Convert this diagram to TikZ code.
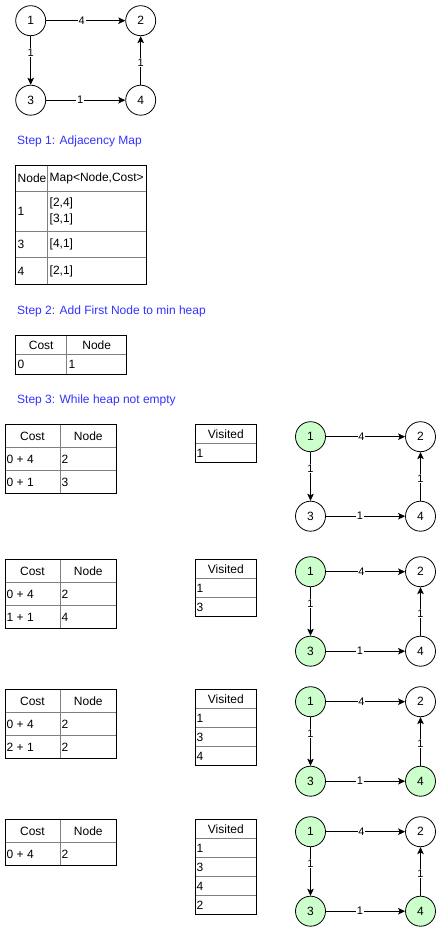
\documentclass[tikz,border=0pt]{standalone}
\usepackage{fontspec}
\setmainfont{Liberation Sans}
\usetikzlibrary{arrows.meta}
\definecolor{stepblue}{HTML}{3333FF}
\definecolor{seengreen}{HTML}{CCFFCC}
\definecolor{gridgray}{HTML}{808080}
\tikzset{
 txttw/.style={font=\fontsize{12}{14}\selectfont},
 vtx/.style={circle, draw=black, line width=0.8pt, minimum size=30pt, inner sep=0pt, fill=white, txttw},
 seen/.style={vtx, fill=seengreen},
 arc/.style={draw=black, line width=0.8pt, -{Stealth[length=7pt,width=6.5pt,inset=1.5pt]}},
 elab/.style={fill=white, inner sep=0.8pt, font=\fontsize{11}{13}\selectfont},
 steptext/.style={anchor=west, inner sep=0pt, text=stepblue, txttw},
 lcell/.style={anchor=west, inner sep=0pt, txttw},
 ccell/.style={inner sep=0pt, txttw},
 tblframe/.style={draw=black, line width=0.8pt},
 tblline/.style={draw=gridgray, line width=0.8pt},
}
% graph: prefix, x, y, style of 1, style of 3, style of 4
\newcommand{\graphblock}[6]{%
 \begin{scope}[shift={(#2,#3)}]
  \node[#4] (#1v1) at (0,0) {1};
  \node[vtx] (#1v2) at (110,0) {2};
  \node[#5] (#1v3) at (0,79.5) {3};
  \node[#6] (#1v4) at (110,79.5) {4};
  \draw[arc] (#1v1) -- node[elab,pos=0.45] (#1l12) {4} (#1v2);
  \draw[arc] (#1v1) -- node[elab,pos=0.34] (#1l13) {1} (#1v3);
  \draw[arc] (#1v3) -- node[elab,pos=0.43] (#1l34) {1} (#1v4);
  \draw[arc] (#1v4) -- node[elab,pos=0.46] (#1l42) {1} (#1v2);
 \end{scope}}
% heap table header at top y: prefix, y
\newcommand{\heaphead}[2]{%
 \node[ccell] (#1hc) at (32.5,{#2+11.5}) {Cost};
 \node[ccell] (#1hn) at (88.3,{#2+11.5}) {Node};}
\begin{document}
\begin{tikzpicture}[x=1pt,y=-1pt]
\useasboundingbox (0,0) rectangle (441,931);
\fill[white] (0,0) rectangle (441,931);

% ---- top graph
\graphblock{g0}{30.7}{20.7}{vtx}{vtx}{vtx}

\node[steptext] (s1) at (17,141) {Step 1: Adjacency Map};

% ---- adjacency table
\draw[tblline] (47.7,165.7) -- (47.7,284.3);
\draw[tblline] (15.7,191.7) -- (146.7,191.7);
\draw[tblline] (15.7,231) -- (146.7,231);
\draw[tblline] (15.7,257.7) -- (146.7,257.7);
\draw[tblframe] (15.7,165.7) rectangle (146.7,284.3);
\node[lcell] (ah1) at (17.5,178.7) {Node};
\node[lcell] (ah2) at (49.5,178.7) {Map<Node,Cost>};
\node[lcell] (ar1a) at (17.5,211.3) {1};
\node[lcell,align=left,font=\fontsize{12}{15.5}\selectfont] (ar1b) at (49.5,211.3) {[2,4]\\\relax[3,1]};
\node[lcell] (ar2a) at (17.5,244.3) {3};
\node[lcell] (ar2b) at (49.5,244.3) {[4,1]};
\node[lcell] (ar3a) at (17.5,271) {4};
\node[lcell] (ar3b) at (49.5,271) {[2,1]};

\node[steptext] (s2) at (17,311) {Step 2: Add First Node to min heap};

% ---- initial heap
\draw[tblline] (66.7,335.7) -- (66.7,374);
\draw[tblline] (15.7,354.3) -- (126.7,354.3);
\draw[tblframe] (15.7,335.7) rectangle (126.7,374);
\node[ccell] (ih1) at (41.2,345) {Cost};
\node[ccell] (ih2) at (96.7,345) {Node};
\node[lcell] (ir1) at (17.5,364.2) {0};
\node[lcell] (ir2) at (68.5,364.2) {1};

\node[steptext] (s3) at (17,400.7) {Step 3: While heap not empty};

% ================= block 1 (top 424.7)
\draw[tblline] (60,424.7) -- (60,493.7);
\draw[tblline] (5,447.7) -- (116.7,447.7);
\draw[tblline] (5,470.7) -- (116.7,470.7);
\draw[tblframe] (5,424.7) rectangle (116.7,493.7);
\heaphead{a}{424.7}
\node[lcell] (a1c) at (6.5,459.2) {0 + 4};
\node[lcell] (a1n) at (61.5,459.2) {2};
\node[lcell] (a2c) at (6.5,482.2) {0 + 1};
\node[lcell] (a2n) at (61.5,482.2) {3};
\draw[tblline] (195,443.7) -- (256.7,443.7);
\draw[tblframe] (195,424.7) rectangle (256.7,462.7);
\node[ccell] (av0) at (225.8,434.2) {Visited};
\node[lcell] (av1) at (196.5,453.2) {1};
\graphblock{ga}{310.5}{436.7}{seen}{vtx}{vtx}

% ================= block 2 (top 559.7)
\draw[tblline] (60,559.7) -- (60,628.7);
\draw[tblline] (5,582.7) -- (116.7,582.7);
\draw[tblline] (5,605.7) -- (116.7,605.7);
\draw[tblframe] (5,559.7) rectangle (116.7,628.7);
\heaphead{b}{559.7}
\node[lcell] (b1c) at (6.5,594.2) {0 + 4};
\node[lcell] (b1n) at (61.5,594.2) {2};
\node[lcell] (b2c) at (6.5,617.2) {1 + 1};
\node[lcell] (b2n) at (61.5,617.2) {4};
\draw[tblline] (195,578.7) -- (256.7,578.7);
\draw[tblline] (195,597.7) -- (256.7,597.7);
\draw[tblframe] (195,559.7) rectangle (256.7,616.7);
\node[ccell] (bv0) at (225.8,569.2) {Visited};
\node[lcell] (bv1) at (196.5,588.2) {1};
\node[lcell] (bv2) at (196.5,607.2) {3};
\graphblock{gb}{310.5}{571.7}{seen}{seen}{vtx}

% ================= block 3 (top 689.7)
\draw[tblline] (60,689.7) -- (60,758.7);
\draw[tblline] (5,712.7) -- (116.7,712.7);
\draw[tblline] (5,735.7) -- (116.7,735.7);
\draw[tblframe] (5,689.7) rectangle (116.7,758.7);
\heaphead{c}{689.7}
\node[lcell] (c1c) at (6.5,724.2) {0 + 4};
\node[lcell] (c1n) at (61.5,724.2) {2};
\node[lcell] (c2c) at (6.5,747.2) {2 + 1};
\node[lcell] (c2n) at (61.5,747.2) {2};
\draw[tblline] (195,708.7) -- (256.7,708.7);
\draw[tblline] (195,727.7) -- (256.7,727.7);
\draw[tblline] (195,746.7) -- (256.7,746.7);
\draw[tblframe] (195,689.7) rectangle (256.7,765.7);
\node[ccell] (cv0) at (225.8,699.2) {Visited};
\node[lcell] (cv1) at (196.5,718.2) {1};
\node[lcell] (cv2) at (196.5,737.2) {3};
\node[lcell] (cv3) at (196.5,756.2) {4};
\graphblock{gc}{310.5}{701.7}{seen}{seen}{seen}

% ================= block 4 (top 819.7)
\draw[tblline] (60,819.7) -- (60,865.7);
\draw[tblline] (5,842.7) -- (116.7,842.7);
\draw[tblframe] (5,819.7) rectangle (116.7,865.7);
\heaphead{d}{819.7}
\node[lcell] (d1c) at (6.5,854.2) {0 + 4};
\node[lcell] (d1n) at (61.5,854.2) {2};
\draw[tblline] (195,838.7) -- (256.7,838.7);
\draw[tblline] (195,857.7) -- (256.7,857.7);
\draw[tblline] (195,876.7) -- (256.7,876.7);
\draw[tblline] (195,895.7) -- (256.7,895.7);
\draw[tblframe] (195,819.7) rectangle (256.7,914.7);
\node[ccell] (dv0) at (225.8,829.2) {Visited};
\node[lcell] (dv1) at (196.5,848.2) {1};
\node[lcell] (dv2) at (196.5,867.2) {3};
\node[lcell] (dv3) at (196.5,886.2) {4};
\node[lcell] (dv4) at (196.5,905.2) {2};
\graphblock{gd}{310.5}{831.7}{seen}{seen}{seen}
\end{tikzpicture}
\end{document}
